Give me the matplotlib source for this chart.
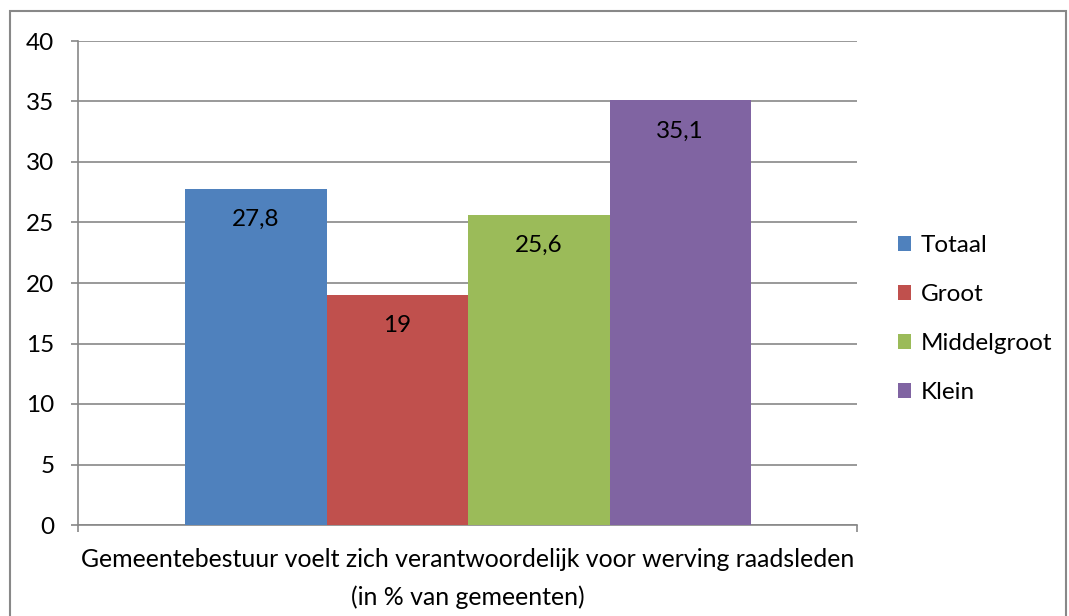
import matplotlib
matplotlib.use("Agg")
import matplotlib.pyplot as plt
from matplotlib.patches import Rectangle

categories = ["Totaal", "Groot", "Middelgroot", "Klein"]
values = [27.8, 19, 25.6, 35.1]
labels = ["27,8", "19", "25,6", "35,1"]
colors = ["#4F81BD", "#C0504D", "#9BBB59", "#8064A2"]
yticks = [0, 5, 10, 15, 20, 25, 30, 35, 40]
xlabel = "Gemeentebestuur voelt zich verantwoordelijk voor werving raadsleden\n(in % van gemeenten)"

plt.rcParams['font.family'] = ['Lato', 'DejaVu Sans']
FS = 17.5

W, H = 1069, 616
fig = plt.figure(figsize=(W/100, H/100), dpi=100)
grey = "#888888"

# outer border
fig.add_artist(Rectangle((10/W, -0.05), (1066-10)/W, 1.05 - 11/H, transform=fig.transFigure,
                         fill=False, edgecolor=grey, linewidth=1.5))

ax = fig.add_axes([78/W, 1-525/H, (857-78)/W, (525-41)/H])
bar_w = 141.5/779
start = 107/779
for i, (c, v, l, col) in enumerate(zip(categories, values, labels, colors)):
    x0 = start + bar_w*i + bar_w/2
    ax.bar(x0, v, width=bar_w, color=col, label=c, zorder=3)
    ax.annotate(l, (x0, v), xytext=(0, -22), textcoords='offset points',
                ha='center', va='center', fontsize=FS, color='black', zorder=4)

ax.set_xlim(0, 1)
ax.set_ylim(0, 40)
ax.set_yticks(yticks)
ax.set_yticklabels([str(t) for t in yticks], fontsize=FS)
ax.set_xticks([0, 1])
ax.set_xticklabels(["", ""])
ax.tick_params(axis='y', length=5, width=1.2, color=grey, pad=12)
ax.tick_params(axis='x', length=5, width=1.2, color=grey, direction='out')
ax.yaxis.grid(True, color=grey, linewidth=1.2, zorder=0)
ax.set_axisbelow(True)
for s in ['top', 'right']:
    ax.spines[s].set_visible(False)
for s in ['left', 'bottom']:
    ax.spines[s].set_color(grey)
    ax.spines[s].set_linewidth(1.2)

ax.text(0.5, -0.047, xlabel, transform=ax.transAxes, ha='center', va='top',
        fontsize=17.9, linespacing=1.75)

leg = ax.legend(loc='center left', bbox_to_anchor=((888-78)/779, (525-319)/484),
                frameon=False, fontsize=FS, handlelength=0.55, handleheight=0.55,
                labelspacing=1.15, handletextpad=0.4, borderaxespad=0)

fig.savefig("out.png", dpi=100)
